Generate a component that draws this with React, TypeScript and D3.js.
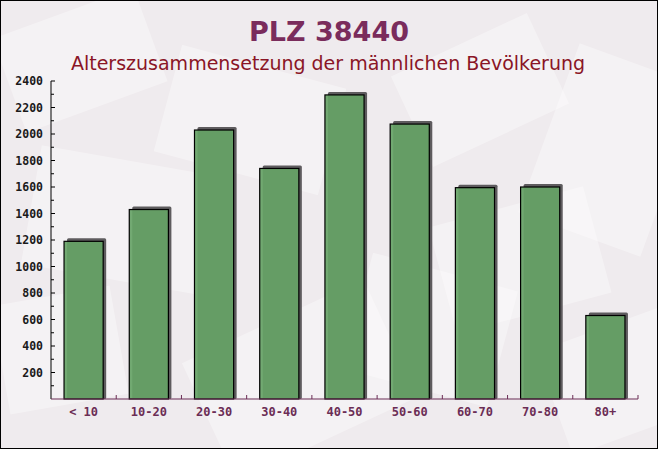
import React, { useEffect } from "react";
import * as d3 from "d3";

const categories = ["< 10", "10-20", "20-30", "30-40", "40-50", "50-60", "60-70", "70-80", "80+"];
const values = [1190, 1430, 2030, 1740, 2295, 2075, 1595, 1600, 630];
const yTicks = [200, 400, 600, 800, 1000, 1200, 1400, 1600, 1800, 2000, 2200, 2400];
const title = "PLZ 38440";
const subtitle = "Alterszusammensetzung der männlichen Bevölkerung";

// decorative background envelopes: [cx, cy, w, h, rotation]
const envelopes: [number, number, number, number, number][] = [
  [80, 60, 150, 100, -20],
  [250, 120, 170, 110, 15],
  [480, 90, 150, 100, -25],
  [610, 150, 130, 180, 20],
  [120, 220, 180, 120, 10],
  [520, 260, 160, 110, -15],
  [300, 380, 200, 130, -25],
  [60, 350, 120, 110, -10],
  [620, 380, 140, 110, -20],
  [430, 330, 150, 120, 15],
];

const W = 658;
const H = 449;
const left = 51;
const right = 638;
const top = 81;
const bottom = 399;

export default function App() {
  useEffect(() => {
    document.body.style.margin = "0";
  }, []);
  const x = d3.scaleBand<string>().domain(categories).range([left, right]).paddingInner(0).paddingOuter(0);
  const y = d3.scaleLinear().domain([0, 2400]).range([bottom, top]);
  const bw = x.bandwidth();
  const barW = bw * 0.6;
  const minor = d3.range(100, 2401, 100);
  const mono = "'DejaVu Sans Mono', monospace";
  return (
    <svg width={W} height={H} style={{ position: "absolute", left: 0, top: 0, display: "block" }}>
      <rect x={0} y={0} width={W} height={H} fill="#efebee" />
      {envelopes.map(([cx, cy, w, h, r], i) => (
        <rect
          key={i}
          x={cx - w / 2}
          y={cy - h / 2}
          width={w}
          height={h}
          fill="#ffffff"
          opacity={0.35}
          transform={`rotate(${r} ${cx} ${cy})`}
        />
      ))}
      <rect x={0.5} y={0.5} width={W - 1} height={H - 1} fill="none" stroke="#000" strokeWidth={1} />
      <text x={329} y={41} textAnchor="middle" fontFamily="'DejaVu Sans', sans-serif" fontWeight="bold" fontSize={27} fill="#7a2c5c">
        {title}
      </text>
      <text x={328} y={70} textAnchor="middle" fontFamily="'DejaVu Sans', sans-serif" fontSize={19} fill="#8a1526">
        {subtitle}
      </text>
      {/* bars */}
      {categories.map((c, i) => {
        const bx = (x(c) as number) + (bw - barW) / 2;
        const by = y(values[i]);
        const bh = bottom - by;
        return (
          <g key={c}>
            <rect x={bx + 3} y={by - 3} width={barW} height={bh + 3} fill="#4e4b4e" opacity={0.9} rx={1.5} />
            <rect x={bx} y={by} width={barW} height={bh} fill="#66a366" fillOpacity={0.92} stroke="#000" strokeWidth={1.2} />
          </g>
        );
      })}
      {/* y axis */}
      <line x1={left} x2={left} y1={top} y2={bottom} stroke="#000" strokeWidth={1} />
      {minor.map((t) => (
        <line key={t} x1={left} x2={left + (t % 200 === 0 ? 4 : 3)} y1={y(t)} y2={y(t)} stroke="#000" strokeWidth={1} />
      ))}
      {yTicks.map((t) => (
        <text key={t} x={43} y={y(t) + 4} textAnchor="end" fontFamily={mono} fontWeight="bold" fontSize={11.5} fill="#1a1a1a">
          {t}
        </text>
      ))}
      {/* x axis */}
      <line x1={left} x2={right} y1={bottom} y2={bottom} stroke="#6b2d55" strokeWidth={1.2} />
      {categories.map((c, i) => (
        <line key={"t" + i} x1={(x(c) as number) + bw} x2={(x(c) as number) + bw} y1={bottom} y2={bottom - 4} stroke="#6b2d55" strokeWidth={1} />
      ))}
      {categories.map((c) => (
        <text key={"l" + c} x={(x(c) as number) + bw / 2} y={416} textAnchor="middle" fontFamily={mono} fontWeight="bold" fontSize={12} fill="#6b2d55">
          {c}
        </text>
      ))}
    </svg>
  );
}
